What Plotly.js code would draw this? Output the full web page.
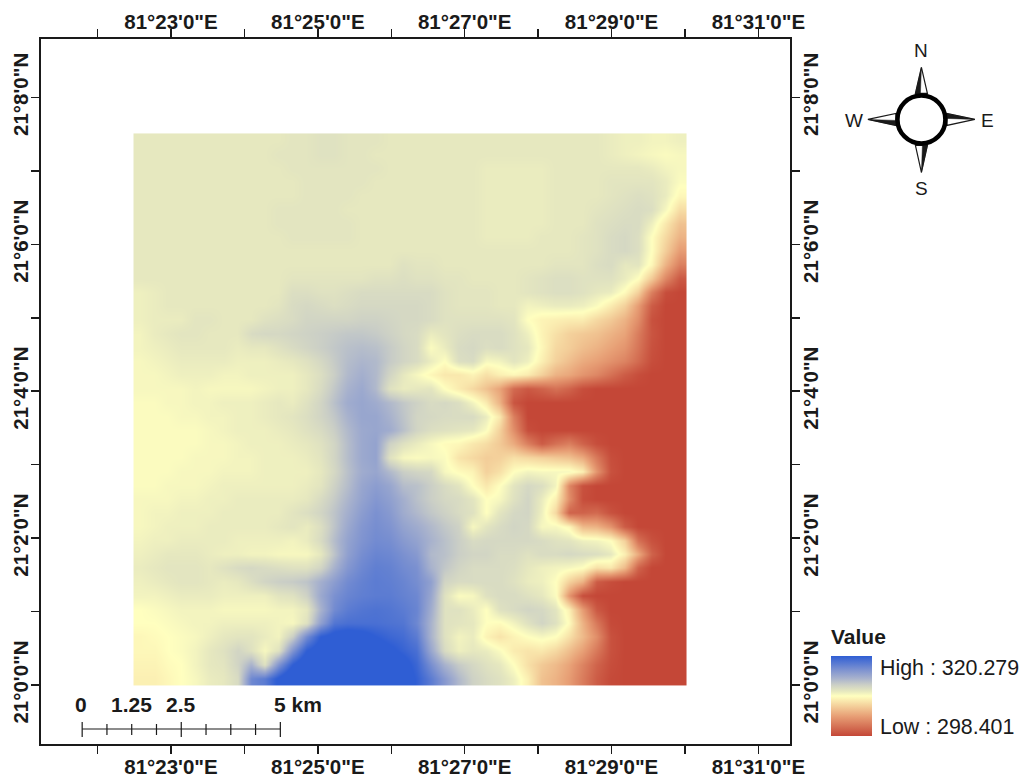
<!DOCTYPE html>
<html>
<head>
<meta charset="utf-8">
<script src="https://cdn.plot.ly/plotly-3.0.1.min.js"></script>
<style>html,body{margin:0;padding:0;background:#fff}#plot{width:1022px;height:779px}</style>
</head>
<body>
<div id="plot"></div>
<script>
// Elevation, as percent of the legend range (0 = Low, 100 = High; beyond that the colour saturates).
// Rows run north to south, columns west to east.
const elevationRows = [
[56,56,56,56,56,56,56,56,56,56,56,57,57,58,58,57,57,57,56,56, 56,56,56,56,56,56,56,56,56,56,56,56,56,56,55,54,54,53,53,54],
[56,56,56,56,56,56,56,56,56,56,57,57,57,58,58,57,57,56,56,56, 56,56,56,56,56,56,56,56,56,56,56,56,56,56,55,54,53,52,51,52],
[56,56,56,56,56,56,56,56,56,56,56,57,57,57,57,57,57,57,56,56, 56,56,56,56,56,55,55,55,55,55,56,56,56,56,56,56,56,55,53,52],
[56,56,56,56,56,56,56,56,56,56,56,56,57,57,57,57,57,56,56,56, 56,56,56,56,56,55,55,55,55,55,56,56,56,56,57,57,57,57,55,51],
[56,56,56,56,56,56,56,56,56,56,56,56,57,57,57,57,56,56,56,56, 56,56,56,56,56,55,55,55,55,55,56,56,56,56,57,58,59,58,55,48],
[56,56,56,56,56,56,56,56,56,56,57,57,57,57,57,56,56,56,56,56, 56,56,56,56,56,55,55,55,55,55,56,56,56,57,58,59,60,59,52,41],
[56,56,56,56,56,56,56,56,56,56,57,57,57,57,57,57,56,56,56,56, 56,56,56,56,56,55,55,55,55,55,56,56,56,58,59,60,60,54,44,34],
[56,56,56,56,56,56,56,56,56,56,56,57,57,57,57,57,56,56,56,56, 56,56,56,56,56,55,55,55,55,56,56,56,57,58,60,61,59,50,40,30],
[56,56,56,56,56,56,56,56,56,56,56,56,56,56,56,56,56,56,56,56, 56,56,56,56,56,56,56,56,56,56,56,56,57,58,60,61,59,50,37,24],
[56,56,56,56,56,56,56,56,56,56,56,56,56,56,56,56,56,56,56,58, 57,57,56,56,56,56,56,56,56,56,57,57,57,59,60,56,57,48,30,16],
[56,56,56,56,56,56,56,56,56,56,56,57,57,57,57,57,57,58,58,59, 58,58,57,57,56,56,56,56,57,58,59,59,58,58,58,55,50,36,18,5],
[54,55,56,56,56,56,56,56,56,56,56,59,59,58,58,59,60,60,60,60, 60,60,58,57,57,57,56,56,57,58,59,59,58,56,55,49,38,16,2,0],
[54,55,56,56,56,56,56,56,56,56,57,60,61,60,59,60,61,61,61,61, 61,60,58,57,57,57,56,56,53,54,55,55,54,51,45,38,24,6,0,0],
[54,55,55,55,57,57,56,56,56,58,59,60,62,62,62,62,63,63,62,61, 61,60,58,58,58,58,58,57,50,47,46,45,45,40,36,30,20,3,0,0],
[53,55,56,57,57,56,56,56,60,61,61,62,63,64,65,66,66,65,63,61, 60,55,57,59,60,60,60,58,54,47,42,38,36,34,30,26,15,4,0,0],
[53,54,55,56,56,56,56,55,56,56,58,60,62,64,66,68,69,68,65,62, 60,51,55,60,61,59,60,58,56,48,40,37,33,30,26,22,13,3,0,0],
[52,53,54,55,55,55,55,54,54,54,55,56,58,61,65,69,71,70,65,62, 60,55,50,59,60,52,53,57,54,46,38,33,28,25,21,17,10,2,0,0],
[52,52,53,54,54,54,53,53,54,54,54,54,56,59,64,70,73,70,62,56, 52,48,44,44,47,42,46,48,45,38,30,27,22,18,12,6,2,0,0,0],
[52,52,52,52,53,52,52,52,52,53,54,54,56,60,66,72,75,70,58,55, 56,57,50,45,40,34,26,10,5,8,12,8,2,0,0,0,0,0,0,0],
[51,51,52,52,53,53,54,54,54,55,56,55,58,62,68,74,76,74,70,66, 63,60,61,59,53,45,30,4,0,0,0,0,0,0,0,0,0,0,0,0],
[51,51,51,52,52,53,53,54,54,55,56,57,59,62,66,72,76,76,72,67, 62,61,60,60,60,55,44,16,0,0,0,0,0,0,0,0,0,0,0,0],
[51,51,51,51,51,52,53,54,54,54,55,56,58,60,64,70,75,76,74,68, 62,59,58,57,56,51,38,20,2,0,0,0,0,0,0,0,0,0,0,0],
[51,51,51,51,51,52,52,53,54,54,54,55,56,58,62,69,75,77,63,58, 55,52,49,48,44,41,36,28,16,6,12,16,8,2,0,0,0,0,0,0],
[51,51,51,51,52,52,52,53,53,54,54,54,55,57,62,69,75,77,58,52, 51,52,51,43,40,37,38,42,40,38,36,34,28,14,2,0,0,0,0,0],
[51,51,51,52,52,52,53,53,53,54,54,54,54,56,61,68,74,76,70,64, 62,61,52,49,47,38,42,50,53,52,52,52,46,22,3,0,0,0,0,0],
[51,51,52,52,52,53,54,54,54,54,54,54,55,57,63,69,76,79,76,69, 68,64,60,57,50,44,50,57,61,59,53,18,3,0,0,0,0,0,0,0],
[52,52,52,53,53,54,54,55,55,55,55,55,56,60,65,71,77,81,78,73, 68,64,61,60,57,50,52,58,62,55,46,20,2,0,0,0,0,0,0,0],
[52,53,53,54,54,54,55,55,55,55,55,57,59,62,67,73,79,83,80,74, 70,66,63,60,58,50,57,61,62,54,40,8,8,10,3,0,0,0,0,0],
[52,53,54,54,54,55,55,55,55,55,56,57,55,59,67,75,81,84,82,77, 74,70,66,63,52,57,60,62,61,52,52,48,32,30,22,6,0,0,0,0],
[53,54,54,55,55,55,55,54,54,54,54,53,55,60,69,77,82,85,84,80, 77,72,68,64,60,61,61,61,61,60,58,57,54,53,50,38,12,3,0,0],
[54,55,56,56,56,55,54,54,53,53,52,52,52,56,67,78,84,87,86,83, 80,70,68,64,62,62,60,60,58,60,60,61,60,59,56,46,28,8,0,0],
[55,56,57,57,57,56,58,60,61,60,59,58,58,62,72,81,86,89,88,85, 83,72,66,62,60,60,60,59,56,54,53,52,50,42,44,32,8,0,0,0],
[54,55,56,57,57,56,55,56,59,62,64,65,67,73,79,85,88,90,89,87, 84,78,62,60,60,60,60,58,55,54,50,38,30,6,2,0,0,0,0,0],
[53,53,54,55,55,55,54,54,54,54,57,58,63,75,83,87,89,90,90,88, 86,76,58,51,52,58,60,60,58,56,51,22,2,0,0,0,0,0,0,0],
[50,51,52,53,53,53,52,52,52,52,53,53,56,72,85,90,92,93,92,90, 87,74,58,58,55,50,58,60,62,61,57,46,24,5,0,0,0,0,0,0],
[50,50,51,52,53,53,54,54,54,54,53,52,58,78,92,94,94,94,93,92, 86,72,58,57,56,50,49,53,58,62,58,49,30,14,1,0,0,0,0,0],
[48,49,50,51,52,54,56,57,57,55,53,64,85,100,104,106,104,100,97,95, 90,72,58,53,55,47,43,47,50,52,50,42,32,20,3,0,0,0,0,0],
[48,48,50,51,53,56,58,62,58,52,58,82,100,106,110,110,108,105,102,98, 94,76,60,54,56,55,51,45,43,44,40,33,25,14,3,0,0,0,0,0],
[47,47,49,50,53,56,57,62,72,58,82,100,110,112,112,112,112,110,108,104, 97,84,72,65,61,58,56,50,42,36,32,26,17,8,2,0,0,0,0,0],
[46,46,48,50,52,55,56,60,86,90,102,112,112,112,112,112,112,112,110,106, 99,90,80,70,63,60,58,54,46,34,30,24,15,6,1,0,0,0,0,0]
];

// Axes are in minutes past 81° E and past 21° N.
const lonTicks = [22,23,24,25,26,27,28,29,30,31];
const lonLabels = ['', '81°23\'0"E', '', '81°25\'0"E', '', '81°27\'0"E', '', '81°29\'0"E', '', '81°31\'0"E'];
const latTicks = [0,1,2,3,4,5,6,7,8];
const latLabels = ['21°0\'0"N', '', '21°2\'0"N', '', '21°4\'0"N', '', '21°6\'0"N', '', '21°8\'0"N'];
const lonRange = [21.23, 31.43];
const latRange = [-0.803, 8.796];
const rasterWest = 22.49, rasterEast = 30.02, rasterSouth = 0, rasterNorth = 7.51;

const legendTitle = 'Value';
const legendHigh = 'High : 320.279';
const legendLow = 'Low : 298.401';
const scaleKm = [0,0.625,1.25,1.875,2.5,3.125,3.75,4.375,5];
const scaleLabels = [['0',81],['1.25',131],['2.5',181],['5 km',298]];

const W = 1022, H = 779, L = 40.5, R = 790, T = 38.5, B = 744;
const px = x => (x - L) / (R - L);
const py = y => (B - y) / (B - T);
const ink = '#1a1a1a';
const face = 'Liberation Sans, Arial, sans-serif';

const nCols = elevationRows[0].length, nRows = elevationRows.length;
const dLon = (rasterEast - rasterWest) / nCols, dLat = (rasterNorth - rasterSouth) / nRows;

const raster = {
  type: 'heatmap',
  z: elevationRows.slice().reverse(),
  x0: rasterWest + dLon / 2, dx: dLon,
  y0: rasterSouth + dLat / 2, dy: dLat,
  zmin: 0, zmax: 100, zsmooth: 'best',
  colorscale: [[0,'rgb(196,71,55)'],[0.25,'rgb(232,160,118)'],[0.5,'rgb(255,255,191)'],[0.56,'rgb(230,232,191)'],[0.64,'rgb(203,207,198)'],[0.72,'rgb(168,178,205)'],[0.82,'rgb(128,148,208)'],[1,'rgb(47,94,212)']],
  hoverinfo: 'skip',
  colorbar: {
    thickness: 41, thicknessmode: 'pixels', len: 80, lenmode: 'pixels',
    x: px(831), xanchor: 'left', y: py(736), yanchor: 'bottom',
    xpad: 0, ypad: 0, outlinewidth: 0, borderwidth: 0, ticks: '', showticklabels: false
  }
};
const topRight = {type:'scatter', x:[], y:[], xaxis:'x2', yaxis:'y2', showlegend:false, hoverinfo:'skip'};

const tickFont = {family: face, size: 20.5, color: ink, weight: 'bold'};
const xBase = {range: lonRange, tickmode:'array', tickvals: lonTicks, ticktext: lonLabels, ticks:'outside', ticklen:8, tickwidth:1.5, tickcolor: ink,
  showgrid:false, zeroline:false, showline:true, linecolor: ink, linewidth:2, tickfont: tickFont, tickangle:0};
const yBase = {range: latRange, tickmode:'array', tickvals: latTicks, ticktext: latLabels, ticks:'outside', ticklen:8, tickwidth:1.5, tickcolor: ink,
  showgrid:false, zeroline:false, showline:true, linecolor: ink, linewidth:2, tickfont: tickFont, tickangle:-90};

// Decorations in page pixels
const shapes = [];
function poly(points, fill, lineW) {
  const p = 'M' + points.map(q => px(q[0]) + ',' + py(q[1])).join('L') + 'Z';
  shapes.push({type:'path', xref:'paper', yref:'paper', path:p, fillcolor:fill, line:{color:ink, width:lineW}, layer:'above'});
}
function seg(x0,y0,x1,y1,w) {
  shapes.push({type:'line', xref:'paper', yref:'paper', x0:px(x0), y0:py(y0), x1:px(x1), y1:py(y1), line:{color:ink, width:w}, layer:'above'});
}
// compass
const cx = 921.5, cy = 119;
poly([[cx,67],[cx-6,93],[cx+6,93]], '#fff', 1.2);
poly([[cx,67],[cx-6,93],[cx-1,93]], ink, 0.5);
poly([[cx,172],[cx-6,145],[cx+6,145]], '#fff', 1.2);
poly([[cx,172],[cx+6,145],[cx+1,145]], ink, 0.5);
poly([[868,cy],[896,cy-6],[896,cy+6]], '#fff', 1.2);
poly([[868,cy],[896,cy+6],[896,cy+1]], ink, 0.5);
poly([[975,cy],[947,cy-6],[947,cy+6]], '#fff', 1.2);
poly([[975,cy],[947,cy-6],[947,cy-1]], ink, 0.5);
shapes.push({type:'circle', xref:'paper', yref:'paper', x0:px(cx-24), x1:px(cx+24), y0:py(cy+24), y1:py(cy-24), fillcolor:'#fff', line:{color:'#000', width:4.5}, layer:'above'});
// scale bar
const sx = km => 81.7 + km * 39.66;
seg(sx(0),729,sx(5),729,1.2);
scaleKm.forEach((k,i) => { const major = i % 4 === 0; seg(sx(k), major?722:724, sx(k), major?737:735, 1.2); });

const note = (text,x,y,size,anchor,bold) => ({text, xref:'paper', yref:'paper', x:px(x), y:py(y), showarrow:false, xanchor:anchor, yanchor:'middle',
  font:{family:face, size, color:ink, weight: bold?'bold':'normal'}});
const annotations = [
  note(legendTitle,829,636,21,'left',true),
  note(legendHigh,878,668,21.4,'left',false),
  note(legendLow,878,727,21.4,'left',false),
  note('N',921.5,50,19,'center',false),
  note('S',921.5,188,19,'center',false),
  note('W',854,120,19,'center',false),
  note('E',988,120,19,'center',false)
].concat(scaleLabels.map(s => note(s[0],s[1],704,21,'center',true)));

const layout = {
  width: W, height: H, autosize:false,
  margin:{l:L, r:W-R, t:T, b:H-B, pad:0},
  paper_bgcolor:'#fff', plot_bgcolor:'#fff', showlegend:false,
  xaxis: Object.assign({}, xBase, {side:'bottom', anchor:'y', ticklabelstandoff:-5}),
  yaxis: Object.assign({}, yBase, {side:'left', anchor:'x', ticklabelstandoff:-5}),
  xaxis2: Object.assign({}, xBase, {side:'top', overlaying:'x', anchor:'y2', ticklabelstandoff:-8}),
  yaxis2: Object.assign({}, yBase, {side:'right', overlaying:'y', anchor:'x2', ticklabelstandoff:-7}),
  shapes, annotations
};
Plotly.newPlot('plot', [raster, topRight], layout, {displayModeBar:false, staticPlot:true});
</script>
</body>
</html>
